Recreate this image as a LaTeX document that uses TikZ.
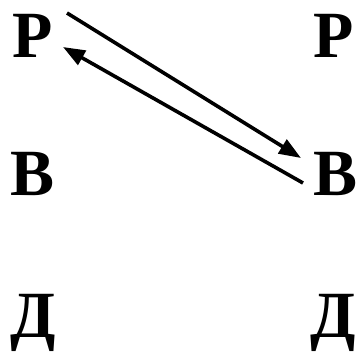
\documentclass[tikz,border=0pt]{standalone}
\usepackage{fontspec}
\setmainfont{Liberation Serif}
\usetikzlibrary{arrows.meta}
\begin{document}
\begin{tikzpicture}[x=1pt,y=1pt,
  letter/.style={inner sep=0pt,anchor=base,font=\fontsize{66}{66}\selectfont\bfseries},
  arr/.style={line width=3.6pt,-{Triangle[length=22pt,width=16pt]}}]
\useasboundingbox (0,0) rectangle (359,-353);
\node[letter] (pl) at (33,-58) {Р};
\node[letter] (bl) at (33,-195) {В};
\node[letter] (dl) at (33,-337) {Д};
\node[letter] (pr) at (334,-58) {Р};
\node[letter] (br) at (336,-195) {В};
\node[letter] (dr) at (333,-337) {Д};
\coordinate (s1) at (67,-13);
\coordinate (e1) at (301,-158);
\coordinate (s2) at (303,-183);
\coordinate (e2) at (63,-47);
\draw[arr] (s1) -- (e1);
\draw[arr] (s2) -- (e2);
\end{tikzpicture}
\end{document}
